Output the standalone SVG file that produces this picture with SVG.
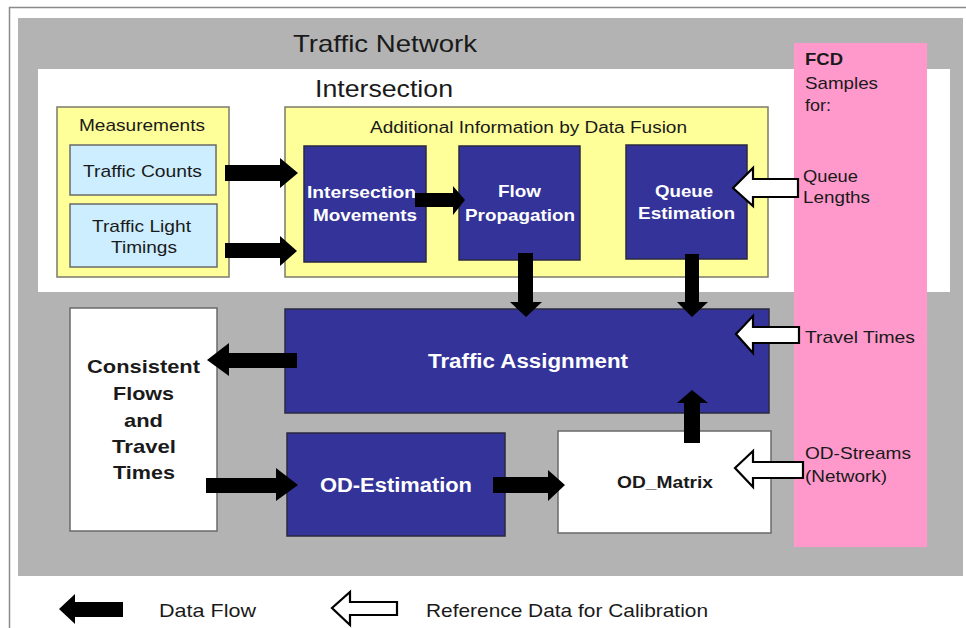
<svg xmlns="http://www.w3.org/2000/svg" width="966" height="628" viewBox="0 0 966 628">
  <style>
    text { font-family: "Liberation Sans", Arial, sans-serif; fill: #1a1a1a; }
    .t24 { font-size: 24px; }
    .t17 { font-size: 17px; }
    .t16 { font-size: 16px; }
    .t19 { font-size: 19px; }
    .b { font-weight: bold; }
    .w { fill: #ffffff; }
    .mid { text-anchor: middle; }
    .yellow { fill: #ffff99; stroke: #7a7a6a; stroke-width: 1.5; }
    .blue { fill: #cceeff; stroke: #6a6a6a; stroke-width: 1.5; }
    .navy { fill: #333399; stroke: #2a2a40; stroke-width: 1.5; }
    .white { fill: #ffffff; stroke: #6a6a6a; stroke-width: 1.5; }
    .flow { fill: #000000; }
    .ref { fill: #ffffff; stroke: #000000; stroke-width: 2.2; stroke-linejoin: miter; }
  </style>

  <!-- page frame -->
  <rect width="966" height="628" fill="#ffffff"/>
  <path d="M9.5 628 V7.5 H966" fill="none" stroke="#8a8a8a" stroke-width="1.5"/>

  <!-- traffic network area -->
  <g id="traffic-network">
    <rect x="18" y="18" width="945" height="558" fill="#b3b3b3"/>
    <text class="t24" x="293" y="52" textLength="184" lengthAdjust="spacingAndGlyphs">Traffic Network</text>
  </g>

  <!-- intersection area -->
  <g id="intersection">
    <rect x="38" y="69" width="912" height="223" fill="#ffffff"/>
    <text class="t24" x="315" y="97" textLength="138" lengthAdjust="spacingAndGlyphs">Intersection</text>
  </g>

  <!-- FCD samples column -->
  <g id="fcd">
    <rect x="794" y="43" width="133" height="504" fill="#ff99cc"/>
    <text class="t17 b" x="805" y="65" textLength="38" lengthAdjust="spacingAndGlyphs">FCD</text>
    <text class="t17" x="805" y="89" textLength="73" lengthAdjust="spacingAndGlyphs">Samples</text>
    <text class="t17" x="805" y="111" textLength="26" lengthAdjust="spacingAndGlyphs">for:</text>
    <text class="t17" x="803" y="182" textLength="55" lengthAdjust="spacingAndGlyphs">Queue</text>
    <text class="t17" x="803" y="203" textLength="67" lengthAdjust="spacingAndGlyphs">Lengths</text>
    <text class="t17" x="805" y="343" textLength="110" lengthAdjust="spacingAndGlyphs">Travel Times</text>
    <text class="t17" x="805" y="459" textLength="106" lengthAdjust="spacingAndGlyphs">OD-Streams</text>
    <text class="t17" x="805" y="482" textLength="82" lengthAdjust="spacingAndGlyphs">(Network)</text>
  </g>

  <!-- measurements -->
  <g id="measurements">
    <rect class="yellow" x="57" y="107" width="172" height="170"/>
    <text class="t17" x="79" y="131" textLength="126" lengthAdjust="spacingAndGlyphs">Measurements</text>
  </g>
  <g id="traffic-counts">
    <rect class="blue" x="70" y="145" width="146" height="50"/>
    <text class="t17" x="83" y="177" textLength="119" lengthAdjust="spacingAndGlyphs">Traffic Counts</text>
  </g>
  <g id="traffic-light-timings">
    <rect class="blue" x="70" y="204" width="147" height="63"/>
    <text class="t17" x="92" y="232" textLength="99" lengthAdjust="spacingAndGlyphs">Traffic Light</text>
    <text class="t17" x="111" y="253" textLength="66" lengthAdjust="spacingAndGlyphs">Timings</text>
  </g>

  <!-- data fusion -->
  <g id="data-fusion">
    <rect class="yellow" x="285" y="107" width="483" height="170"/>
    <text class="t16" x="370" y="133" textLength="317" lengthAdjust="spacingAndGlyphs">Additional Information by Data Fusion</text>
  </g>
  <g id="intersection-movements">
    <rect class="navy" x="304" y="146" width="122" height="116"/>
    <text class="t17 b w" x="307" y="198" textLength="109" lengthAdjust="spacingAndGlyphs">Intersection</text>
    <text class="t17 b w" x="313" y="221" textLength="104" lengthAdjust="spacingAndGlyphs">Movements</text>
  </g>
  <g id="flow-propagation">
    <rect class="navy" x="459" y="146" width="121" height="114"/>
    <text class="t17 b w" x="498" y="197" textLength="43" lengthAdjust="spacingAndGlyphs">Flow</text>
    <text class="t17 b w" x="465" y="221" textLength="110" lengthAdjust="spacingAndGlyphs">Propagation</text>
  </g>
  <g id="queue-estimation">
    <rect class="navy" x="626" y="145" width="121" height="114"/>
    <text class="t17 b w" x="655" y="197" textLength="58" lengthAdjust="spacingAndGlyphs">Queue</text>
    <text class="t17 b w" x="638" y="219" textLength="97" lengthAdjust="spacingAndGlyphs">Estimation</text>
  </g>

  <!-- network level -->
  <g id="traffic-assignment">
    <rect class="navy" x="285" y="309" width="484" height="104"/>
    <text class="t19 b w" x="428" y="368" textLength="200" lengthAdjust="spacingAndGlyphs" style="font-size:20px">Traffic Assignment</text>
  </g>
  <g id="consistent-flows">
    <rect class="white" x="70" y="308" width="147" height="223"/>
    <text class="t19 b" x="87" y="373" textLength="113" lengthAdjust="spacingAndGlyphs">Consistent</text>
    <text class="t19 b" x="113" y="400" textLength="61" lengthAdjust="spacingAndGlyphs">Flows</text>
    <text class="t19 b" x="124" y="427" textLength="39" lengthAdjust="spacingAndGlyphs">and</text>
    <text class="t19 b" x="112" y="453" textLength="64" lengthAdjust="spacingAndGlyphs">Travel</text>
    <text class="t19 b" x="113" y="479" textLength="62" lengthAdjust="spacingAndGlyphs">Times</text>
  </g>
  <g id="od-estimation">
    <rect class="navy" x="287" y="433" width="218" height="103"/>
    <text class="t19 b w" x="320" y="492" textLength="152" lengthAdjust="spacingAndGlyphs" style="font-size:20px">OD-Estimation</text>
  </g>
  <g id="od-matrix">
    <rect class="white" x="558" y="431" width="213" height="102"/>
    <text class="t17 b" x="617" y="488" textLength="96" lengthAdjust="spacingAndGlyphs">OD_Matrix</text>
  </g>

  <!-- connectors -->
  <g id="connectors">
    <!-- data flow arrows -->
    <polygon class="flow" points="225,165 280,165 280,158 298,173 280,188 280,181 225,181"/>
    <polygon class="flow" points="225,243 280,243 280,236 297,251 280,266 280,258 225,258"/>
    <polygon class="flow" points="415,193 453,193 453,186 465,200 453,215 453,207 415,207"/>
    <polygon class="flow" points="518,253 533,253 533,302 542,302 526,317 510,302 518,302"/>
    <polygon class="flow" points="685,254 699,254 699,302 708,302 692,317 677,302 685,302"/>
    <polygon class="flow" points="297,353 229,353 229,343 207,360 229,376 229,368 297,368"/>
    <polygon class="flow" points="206,478 276,478 276,468 298,485 276,501 276,493 206,493"/>
    <polygon class="flow" points="493,477 548,477 548,470 565,485 548,501 548,493 493,493"/>
    <polygon class="flow" points="684,443 684,403 677,403 692,390 708,403 700,403 700,443"/>
    <!-- calibration arrows -->
    <polygon class="ref" points="798,179 753,179 753,168 733,188 753,206 753,197 798,197"/>
    <polygon class="ref" points="799,327 753,327 753,316 736,334 753,353 753,343 799,343"/>
    <polygon class="ref" points="803,462 753,462 753,451 735,468 753,487 753,478 803,478"/>
  </g>

  <!-- legend -->
  <g id="legend">
    <polygon class="flow" points="123,602 75,602 75,594 59,609 75,624 75,617 123,617"/>
    <text class="t19" x="159" y="617" textLength="97" lengthAdjust="spacingAndGlyphs">Data Flow</text>
    <polygon class="ref" points="397,602 350,602 350,592 332,608 350,625 350,615 397,615"/>
    <text class="t19" x="426" y="617" textLength="282" lengthAdjust="spacingAndGlyphs">Reference Data for Calibration</text>
  </g>
</svg>
